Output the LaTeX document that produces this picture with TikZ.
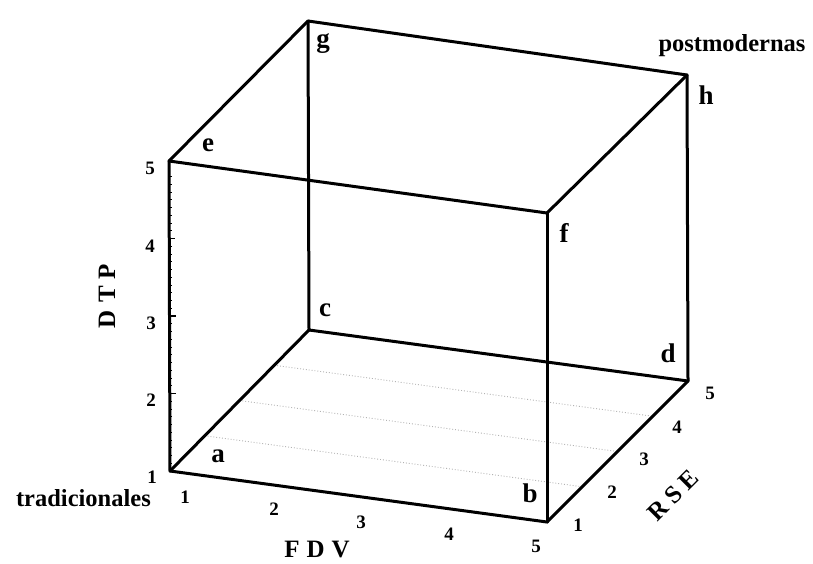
\documentclass[tikz,border=0pt]{standalone}
\usepackage{fontspec}
\setmainfont{Liberation Serif}
\usetikzlibrary{calc}
\begin{document}
\begin{tikzpicture}[x=1pt,y=-1pt,
  edge/.style={line width=3pt,line cap=round,line join=round},
  gridline/.style={gray!60,dotted,line width=0.9pt},
  corner/.style={font=\fontsize{27}{27}\selectfont\bfseries,inner sep=0pt},
  word/.style={font=\fontsize{24.5}{24.5}\selectfont\bfseries,inner sep=0pt},
  axisname/.style={font=\fontsize{25}{25}\selectfont\bfseries,inner sep=0pt},
  ticklab/.style={font=\fontsize{19}{19}\selectfont\bfseries,inner sep=0pt}]
\useasboundingbox (0,0) rectangle (813,563);
% corners
\coordinate (a) at (170,471);
\coordinate (b) at (547,522);
\coordinate (c) at (309,330);
\coordinate (d) at (688,381);
\coordinate (e) at (169,161);
\coordinate (f) at (547,213);
\coordinate (g) at (308,21);
\coordinate (h) at (687,75);
% floor grid
\foreach \t in {0.25,0.5,0.75}
  \draw[gridline] ($(a)!\t!(c)$) -- ($(b)!\t!(d)$);
% DTP ticks
\foreach \t in {0.25,0.5,0.75}
  \draw[line width=1.2pt] ($(a)!\t!(e)$) -- ++(6,0);
\foreach \t in {0.025,0.05,...,0.975}
  \draw[line width=0.6pt] ($(a)!\t!(e)$) -- ++(2.5,0);
% edges
\draw[edge] (a) -- (b);
\draw[edge] (a) -- (c);
\draw[edge] (a) -- (e);
\draw[edge] (b) -- (d);
\draw[edge] (b) -- (f);
\draw[edge] (c) -- (d);
\draw[edge] (c) -- (g);
\draw[edge] (d) -- (h);
\draw[edge] (e) -- (f);
\draw[edge] (e) -- (g);
\draw[edge] (f) -- (h);
\draw[edge] (g) -- (h);
% corner labels
\node[corner] (la) at (218,456) {a};
\node[corner] (lb) at (530,493) {b};
\node[corner] (lc) at (325,310) {c};
\node[corner] (ld) at (668,353) {d};
\node[corner] (le) at (208,145) {e};
\node[corner] (lf) at (564,233) {f};
\node[corner] (lg) at (323,44) {g};
\node[corner] (lh) at (706,95) {h};
% words
\node[word,anchor=east] (trad) at (151,498) {tradicionales};
\node[word] (post) at (732,46) {postmodernas};
% axis names
\node[axisname,rotate=90] (dtp) at (107,296) {D\hspace{7pt}T\hspace{7pt}P};
\node[axisname] (fdv) at (317,549) {F\hspace{7pt}D\hspace{7pt}V};
\node[axisname,rotate=45] (rse) at (673,495) {R\hspace{6pt}S\hspace{6pt}E};
% DTP tick labels
\node[ticklab] (z1) at (152,477) {1};
\node[ticklab] (z2) at (151,400) {2};
\node[ticklab] (z3) at (151,323) {3};
\node[ticklab] (z4) at (150,246) {4};
\node[ticklab] (z5) at (150,168) {5};
% FDV tick labels
\node[ticklab] (x1) at (185,497) {1};
\node[ticklab] (x2) at (274,509) {2};
\node[ticklab] (x3) at (361,522) {3};
\node[ticklab] (x4) at (449,534) {4};
\node[ticklab] (x5) at (536,546) {5};
% RSE tick labels
\node[ticklab] (y1) at (578,525) {1};
\node[ticklab] (y2) at (612,492) {2};
\node[ticklab] (y3) at (644,459) {3};
\node[ticklab] (y4) at (677,427) {4};
\node[ticklab] (y5) at (710,393) {5};
\end{tikzpicture}
\end{document}
